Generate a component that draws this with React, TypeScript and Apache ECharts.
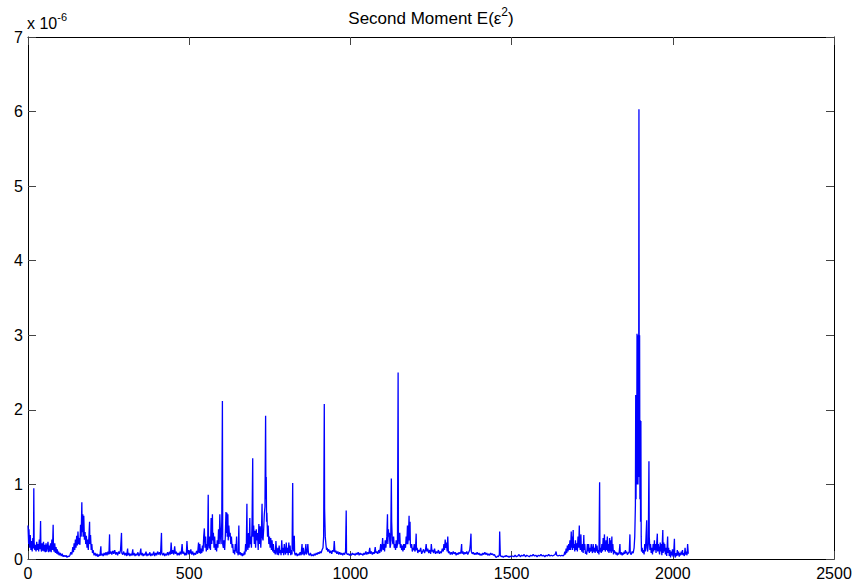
import React, { useEffect, useRef } from "react";
import * as echarts from "echarts";

// Sample index and E(eps^2) values in units of 1e-6
const segA: [number, number][] = [
  [0,0.45],[2,0.2],[3,0.4],[5,0.15],[7,0.32],[9,0.12],[11,0.24],[13,0.1],[15,0.28],[17,0.14],[18,0.95],[19,0.22],[21,0.12],[23,0.19],[25,0.1],[27,0.23],[29,0.12],[31,0.2],[33,0.1],[35,0.26],[37,0.13],[39,0.51],[40,0.16],[42,0.1],[44,0.21],[46,0.11],[48,0.23],[50,0.1],[52,0.19],[54,0.09],[56,0.21],[58,0.1],[60,0.16],[62,0.23],[64,0.09],[66,0.18],[68,0.1],[70,0.21],[72,0.09],[74,0.26],[76,0.12],[78,0.46],[79,0.15],[81,0.1],[83,0.21],[85,0.08],[87,0.16],[89,0.07],[91,0.13],[93,0.06],[95,0.1],[97,0.05],[100,0.08],[103,0.04],[106,0.07],[109,0.03],[112,0.05],[115,0.03],[118,0.05],[121,0.02],[124,0.04],[127,0.03],[130,0.05],[133,0.09],[136,0.06],[139,0.16],[141,0.09],[143,0.21],[145,0.12],[147,0.26],[149,0.15],[151,0.31],[153,0.18],[155,0.37],[157,0.2],[159,0.28],[161,0.19],[163,0.46],[165,0.3],[167,0.76],[168,0.36],[170,0.6],[171,0.3],[173,0.58],[175,0.26],[177,0.36],[179,0.2],[181,0.31],[183,0.15],[185,0.26],[187,0.12],[189,0.3],[191,0.5],[192,0.2],[194,0.32],[196,0.12],[198,0.2],[200,0.08],[202,0.12],[205,0.05],[208,0.08]
];
const segB: [number, number][] = [
  [211,0.04],[214,0.07],[217,0.03],[220,0.06],[223,0.04],[226,0.17],[227,0.05],[230,0.07],[233,0.04],[236,0.08],[239,0.05],[242,0.09],[245,0.05],[248,0.1],[251,0.06],[253,0.33],[254,0.07],[257,0.1],[260,0.06],[263,0.11],[266,0.07],[269,0.12],[272,0.06],[275,0.09],[278,0.05],[281,0.1],[284,0.07],[287,0.12],[290,0.35],[291,0.08],[294,0.06],[297,0.1],[300,0.05],[303,0.08],[306,0.04],[309,0.14],[310,0.05],[313,0.08],[316,0.04],[319,0.07],[322,0.05],[325,0.13],[326,0.05],[329,0.08],[332,0.04],[335,0.07],[338,0.05],[341,0.09],[344,0.04],[347,0.07],[350,0.14],[351,0.05],[354,0.08],[357,0.04],[360,0.07],[363,0.05],[366,0.1],[369,0.04],[372,0.07],[375,0.05],[378,0.09],[381,0.04],[384,0.07],[387,0.05],[390,0.1],[393,0.04],[396,0.08],[399,0.05],[402,0.1],[405,0.06],[408,0.09],[411,0.05],[414,0.35],[415,0.08],[418,0.05],[421,0.08],[424,0.04],[427,0.07],[430,0.05],[433,0.09],[436,0.05],[439,0.1],[442,0.06],[444,0.22],[446,0.07],[449,0.12],[452,0.06],[455,0.17],[457,0.07],[460,0.1],[463,0.05],[466,0.08],[469,0.05],[472,0.1],[475,0.06],[478,0.2],[480,0.07],[483,0.1],[486,0.05],[489,0.08],[491,0.05],[493,0.24],[495,0.1],[497,0.06],[499,0.12]
];
const segC: [number, number][] = [
  [502,0.07],[505,0.13],[508,0.06],[511,0.1],[514,0.05],[517,0.08],[520,0.06],[523,0.11],[526,0.07],[529,0.22],[531,0.08],[533,0.2],[535,0.07],[537,0.14],[539,0.08],[541,0.18],[543,0.1],[545,0.3],[547,0.41],[549,0.15],[551,0.3],[553,0.1],[555,0.2],[557,0.12],[559,0.86],[560,0.25],[562,0.14],[564,0.3],[566,0.12],[568,0.55],[570,0.2],[572,0.6],[573,0.25],[575,0.35],[577,0.15],[579,0.3],[581,0.12],[583,0.2],[585,0.1],[587,0.25],[589,0.15],[591,0.4],[593,0.2],[595,0.6],[597,0.3],[599,0.2],[601,0.5],[603,2.12],[604,0.2],[606,0.15],[608,0.25],[610,0.12],[612,0.3],[614,0.63],[615,0.35],[617,0.62],[618,0.3],[620,0.6],[621,0.25],[623,0.45],[625,0.3],[627,0.35],[629,0.2],[631,0.3],[633,0.15],[635,0.2],[637,0.08],[639,0.12],[641,0.06],[643,0.2],[645,0.1],[647,0.3],[648,0.08],[650,0.1],[652,0.05],[654,0.45],[655,0.08],[657,0.06],[659,0.09],[661,0.05],[663,0.08],[665,0.04],[667,0.07],[669,0.05],[671,0.1],[673,0.06],[675,0.2],[677,0.1],[679,0.74],[680,0.2],[682,0.12],[684,0.35],[686,0.15],[688,0.55],[689,0.2],[691,0.3],[693,0.15],[695,0.5],[697,1.35],[698,0.3],[700,0.45]
];
const segD: [number, number][] = [
  [702,0.2],[704,0.38],[706,0.15],[708,0.4],[710,0.25],[712,0.35],[714,0.12],[716,0.47],[718,0.2],[720,0.44],[722,0.15],[724,0.35],[726,0.74],[727,0.3],[729,0.25],[731,0.4],[733,0.6],[735,0.7],[737,1.92],[738,0.8],[739,1.1],[740,0.5],[741,0.62],[743,0.3],[745,0.45],[747,0.2],[749,0.3],[751,0.15],[753,0.28],[755,0.12],[757,0.25],[759,0.1],[761,0.2],[763,0.08],[765,0.12],[767,0.06],[769,0.24],[771,0.1],[773,0.06],[775,0.15],[777,0.05],[779,0.18],[781,0.08],[783,0.12],[785,0.05],[787,0.25],[789,0.08],[791,0.15],[793,0.05],[795,0.2],[797,0.1],[799,0.06],[801,0.22],[803,0.08],[805,0.15],[807,0.05],[809,0.22],[811,0.08],[813,0.18],[815,0.05],[817,0.12],[819,0.06],[821,1.02],[822,0.2],[824,0.1],[826,0.31],[827,0.08],[829,0.05],[832,0.08],[835,0.04],[838,0.07],[841,0.05],[844,0.09],[847,0.05],[850,0.2],[851,0.06],[854,0.15],[856,0.05],[859,0.08],[862,0.2],[863,0.06],[866,0.1],[868,0.2],[870,0.07],[873,0.05],[876,0.08],[879,0.04],[882,0.06],[885,0.04],[888,0.07],[891,0.05],[894,0.08],[897,0.06],[900,0.09],[903,0.07],[906,0.1],[909,0.08],[912,0.12],[915,0.15],[917,0.3],[919,2.08],[920,0.67],[922,0.3],[924,0.2],[926,0.12],[928,0.15],[930,0.1],[933,0.13],[936,0.08],[939,0.11],[942,0.07],[945,0.12],[948,0.1],[950,0.24],[952,0.09],[955,0.11],[958,0.07],[961,0.1],[964,0.06],[967,0.09],[970,0.06],[973,0.08],[976,0.05],[979,0.08],[982,0.06],[985,0.1],[987,0.65],[988,0.08],[991,0.06],[994,0.07],[997,0.05],[1000,0.07]
];
const segE: [number, number][] = [
  [1003,0.05],[1006,0.08],[1009,0.06],[1012,0.07],[1015,0.05],[1018,0.08],[1021,0.06],[1024,0.09],[1027,0.05],[1030,0.08],[1033,0.06],[1036,0.07],[1039,0.05],[1042,0.08],[1045,0.06],[1048,0.1],[1051,0.06],[1054,0.09],[1057,0.07],[1060,0.15],[1062,0.07],[1065,0.1],[1068,0.06],[1071,0.09],[1074,0.07],[1077,0.16],[1079,0.08],[1082,0.1],[1085,0.07],[1088,0.12],[1091,0.08],[1094,0.2],[1096,0.1],[1098,0.15],[1100,0.28],[1102,0.12],[1104,0.2],[1106,0.1],[1108,0.25],[1110,0.15],[1113,0.3],[1115,0.6],[1116,0.2],[1118,0.4],[1119,0.3],[1121,0.35],[1123,0.15],[1125,0.2],[1127,1.08],[1128,0.5],[1130,0.25],[1132,0.2],[1134,0.3],[1136,0.15],[1138,0.2],[1140,0.12],[1142,0.25],[1144,0.15],[1146,0.2],[1148,2.5],[1149,0.3],[1151,0.2],[1153,0.35],[1155,0.15],[1157,0.2],[1159,0.12],[1161,0.18],[1163,0.1],[1165,0.2],[1167,0.12],[1169,0.2],[1171,0.15],[1173,0.3],[1175,0.2],[1177,0.45],[1178,0.2],[1180,0.3],[1182,0.58],[1183,0.25],[1185,0.5],[1186,0.2],[1188,0.15],[1190,0.2],[1192,0.1],[1194,0.15],[1196,0.12],[1198,0.2],[1200,0.1],[1202,0.14],[1204,0.34],[1205,0.12],[1207,0.15],[1209,0.08],[1212,0.12],[1215,0.1],[1218,0.15],[1221,0.07],[1224,0.1],[1227,0.13],[1230,0.08],[1233,0.12],[1235,0.2],[1237,0.1],
  [1240,0.14],[1243,0.08],[1246,0.12],[1249,0.07],[1251,0.2],[1253,0.1],[1255,0.12],[1258,0.08],[1261,0.14],[1264,0.07],[1267,0.1],[1270,0.08],[1273,0.12],[1276,0.07],[1279,0.1],[1282,0.08],[1285,0.14],[1288,0.1],[1290,0.2],[1292,0.12],[1294,0.26],[1296,0.15],[1298,0.22],[1300,0.1],[1302,0.3],[1304,0.08],[1307,0.1],[1310,0.06],[1313,0.09],[1316,0.06],[1319,0.1],[1322,0.07],[1325,0.09],[1328,0.05],[1331,0.08],[1334,0.06],[1337,0.09],[1340,0.07],[1343,0.1],[1345,0.2],[1346,0.07],[1349,0.1],[1352,0.06],[1355,0.09],[1358,0.07],[1361,0.1],[1364,0.06],[1367,0.09],[1370,0.12],[1372,0.2],[1374,0.34],[1375,0.1],[1378,0.07],[1381,0.09],[1384,0.06],[1387,0.08],[1390,0.06],[1393,0.09],[1396,0.06],[1399,0.08],[1402,0.05],[1405,0.07],[1408,0.05],[1411,0.08],[1414,0.06],[1417,0.09],[1420,0.06],[1423,0.08],[1426,0.05],[1429,0.07],[1432,0.05],[1435,0.08],[1438,0.06],[1441,0.07],[1444,0.05],[1447,0.06],[1450,0.03],[1453,0.02],[1456,0.04],[1459,0.03],[1462,0.06],[1463,0.37],[1465,0.05],[1468,0.03],[1471,0.04],[1474,0.02],[1477,0.04],[1480,0.03],[1483,0.05],[1486,0.03],[1489,0.04],[1492,0.02],[1495,0.04],[1498,0.03]
];
const segF: [number, number][] = [
  [1503,0.04],[1507,0.03],[1511,0.05],[1515,0.03],[1519,0.04],[1523,0.06],[1527,0.03],[1531,0.05],[1535,0.04],[1539,0.06],[1543,0.03],[1547,0.05],[1551,0.04],[1555,0.03],[1559,0.05],[1563,0.04],[1567,0.06],[1571,0.04],[1575,0.05],[1579,0.03],[1583,0.05],[1587,0.04],[1591,0.06],[1595,0.04],[1599,0.05],[1603,0.03],[1607,0.05],[1611,0.04],[1615,0.06],[1619,0.04],[1623,0.05],[1627,0.04],[1631,0.05],[1635,0.06],[1638,0.1],[1640,0.05],[1644,0.04],[1648,0.05],[1652,0.04],[1656,0.05],[1660,0.04],
  [1663,0.06],[1665,0.1],[1667,0.06],[1669,0.14],[1671,0.08],[1673,0.18],[1675,0.1],[1677,0.2],[1679,0.12],[1681,0.25],[1683,0.12],[1685,0.37],[1686,0.15],[1688,0.3],[1689,0.12],[1691,0.39],[1692,0.15],[1694,0.2],[1696,0.1],[1698,0.25],[1700,0.12],[1702,0.21],[1704,0.1],[1706,0.3],[1708,0.15],[1710,0.45],[1711,0.2],[1713,0.12],[1715,0.33],[1716,0.15],[1718,0.1],[1720,0.2],[1722,0.08],[1724,0.32],[1725,0.12],[1727,0.2],[1729,0.07],[1731,0.1],[1733,0.06],[1735,0.2],[1737,0.1],[1739,0.2],[1741,0.08],[1743,0.15],[1745,0.1],[1747,0.2],[1749,0.12],[1751,0.08],[1753,0.2],[1755,0.1],[1757,0.15],[1759,0.08],[1761,0.2],[1763,0.1],[1765,0.18],[1767,0.08],[1769,0.12],[1771,0.06],[1773,1.03],[1774,0.1],[1776,0.15],[1778,0.08],[1780,0.2],[1782,0.1],[1784,0.28],[1786,0.12],[1788,0.33],[1789,0.15],[1791,0.1],[1793,0.25],[1795,0.12],[1797,0.3],[1798,0.1],[1800,0.2],[1802,0.08],[1804,0.28],[1805,0.1],[1807,0.25],[1809,0.08],[1811,0.3],[1812,0.1],[1814,0.2],[1816,0.06],[1818,0.12],[1820,0.08],[1822,0.1],[1824,0.06],[1826,0.09],[1828,0.05],[1830,0.08],[1832,0.06],[1834,0.1],[1836,0.2],[1837,0.08],[1839,0.06],[1841,0.09],[1843,0.05],[1845,0.08],[1847,0.06],[1849,0.1],[1851,0.07],[1853,0.12],[1855,0.08],[1857,0.1],[1859,0.06],
  [1862,0.08],[1865,0.1],[1867,0.33],[1868,0.08],[1871,0.06],[1874,0.1],[1877,0.08],[1880,0.15],[1882,0.3],[1884,0.72],[1885,2.2],[1886,0.8],[1887,2.2],[1888,1.0],[1889,3.02],[1890,1.2],[1891,3.0],[1892,1.0],[1893,2.9],[1894,1.1],[1895,6.03],[1896,1.2],[1897,3.0],[1898,0.8],[1899,1.86],[1900,0.5],[1901,1.85],[1902,0.3],[1903,0.1],
  [1905,0.15],[1907,0.08],[1909,0.12],[1911,0.06],[1913,0.2],[1915,0.1],[1917,0.3],[1919,0.52],[1920,0.15],[1922,0.1],[1924,0.2],[1926,1.31],[1927,0.3],[1929,0.12],[1931,0.2],[1933,0.08],[1935,0.15],[1937,0.06],[1939,0.2],[1941,0.1],[1943,0.25],[1944,0.12],[1946,0.2],[1948,0.08],[1950,0.2],[1952,0.34],[1953,0.1],[1955,0.2],[1957,0.12],[1959,0.06],[1961,0.22],[1962,0.1],[1964,0.2],[1966,0.05],[1969,0.39],[1970,0.08],[1972,0.22],[1973,0.1],[1975,0.2],[1977,0.06],[1979,0.15],[1981,0.04],[1984,0.3],[1985,0.08],[1987,0.15],[1989,0.04],[1991,0.12],[1993,0.02],[1995,0.1],[1997,0.05],[1999,0.13],[2001,0.03],[2003,0.1],[2005,0.27],[2006,0.05],[2008,0.02],[2010,0.08],[2012,0.04],[2014,0.12],[2016,0.05],[2018,0.1],[2020,0.03],[2022,0.08],[2024,0.05],[2026,0.1],[2028,0.06],[2030,0.12],[2032,0.05],[2034,0.08],[2036,0.04],[2038,0.15],[2040,0.06],[2042,0.1],[2044,0.05],[2046,0.2],[2048,0.07]
];

const secondMoment: [number, number][] = [...segA, ...segB, ...segC, ...segD, ...segE, ...segF];

const xTicks = { min: 0, max: 2500, interval: 500 };
const yTicks = { min: 0, max: 7, interval: 1 };

const FONT = "'Liberation Sans', Arial, Helvetica, sans-serif";

export default function App() {
  const ref = useRef<HTMLDivElement>(null);
  useEffect(() => {
    if (!ref.current) return;
    const chart = echarts.init(ref.current, undefined, { renderer: "svg" });
    const tickStyle = { show: true, inside: true, length: 8, lineStyle: { color: "#444", width: 1 } };
    const lineStyle = { show: true, onZero: false, lineStyle: { color: "#000", width: 1 } };
    chart.setOption({
      animation: false,
      backgroundColor: "#fff",
      grid: { left: 28, right: 23, top: 37, bottom: 29, containLabel: false, outerBoundsMode: "none" },
      xAxis: [
        {
          type: "value", position: "bottom", ...xTicks,
          axisLine: lineStyle, axisTick: tickStyle,
          axisLabel: {
            color: "#000", fontSize: 16, fontFamily: FONT, margin: 6,
            showMinLabel: true, showMaxLabel: true,
            formatter: (v: number) => String(v),
          },
          splitLine: { show: false },
        },
        {
          type: "value", position: "top", ...xTicks,
          axisLine: lineStyle, axisTick: tickStyle,
          axisLabel: { show: false }, splitLine: { show: false },
        },
      ],
      yAxis: [
        {
          type: "value", position: "left", ...yTicks,
          axisLine: lineStyle, axisTick: tickStyle,
          axisLabel: {
            color: "#000", fontSize: 16, fontFamily: FONT, margin: 5,
            showMinLabel: true, showMaxLabel: true,
            formatter: (v: number) => String(v),
          },
          splitLine: { show: false },
        },
        {
          type: "value", position: "right", ...yTicks,
          axisLine: lineStyle, axisTick: tickStyle,
          axisLabel: { show: false }, splitLine: { show: false },
        },
      ],
      graphic: [
        {
          type: "text", x: 431, y: 6,
          style: {
            text: "Second Moment E(ε{sup|2})",
            align: "center", verticalAlign: "top",
            fill: "#000", fontSize: 17, fontFamily: FONT, lineHeight: 24,
            rich: {
              sup: { fontSize: 12, fontFamily: FONT, lineHeight: 10, verticalAlign: "top", fill: "#000" },
            },
          },
        },
        {
          type: "text", x: 27, y: 11,
          style: {
            text: "x 10{sup|-6}",
            align: "left", verticalAlign: "top",
            fill: "#000", fontSize: 16, fontFamily: FONT, lineHeight: 24,
            rich: {
              sup: { fontSize: 11, fontFamily: FONT, lineHeight: 10, verticalAlign: "top", fill: "#000" },
            },
          },
        },
      ],
      series: [
        {
          type: "line",
          xAxisIndex: 0, yAxisIndex: 0,
          data: secondMoment,
          showSymbol: false,
          symbol: "none",
          silent: true,
          lineStyle: { color: "#0000ff", width: 1.3 },
        },
      ],
    });
    return () => chart.dispose();
  }, []);
  return <div ref={ref} style={{ position: "absolute", left: 0, top: 0, width: 857, height: 588, background: "#fff" }} />;
}
